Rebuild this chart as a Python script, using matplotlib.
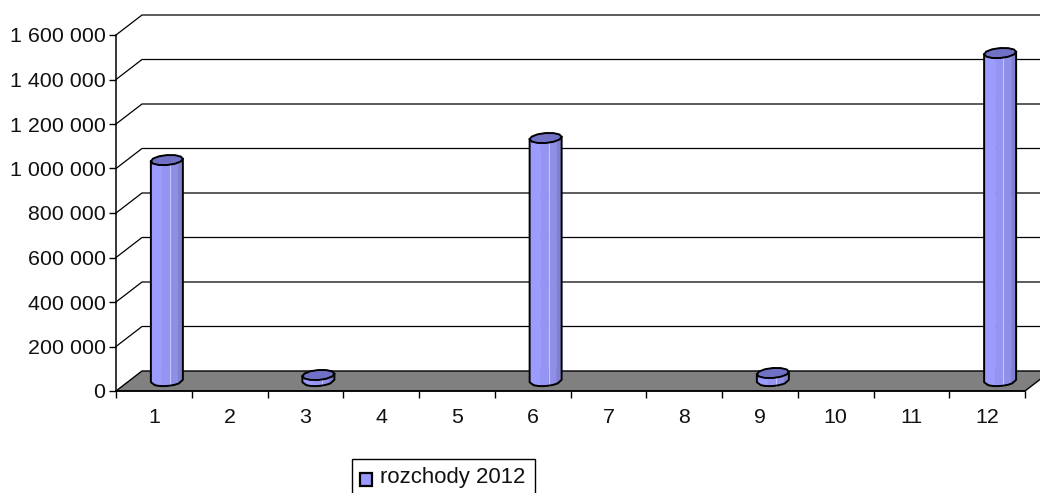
#!/usr/bin/env python3
import matplotlib
matplotlib.use("Agg")
import matplotlib.pyplot as plt
import numpy as np
from matplotlib.patches import Polygon, Rectangle

months = list(range(1, 13))
values = [993000, 0, 27000, 0, 0, 1092000, 0, 0, 36000, 0, 0, 1474000]
y_ticks = [0, 200000, 400000, 600000, 800000, 1000000, 1200000, 1400000, 1600000]
y_labels = ["0", "200 000", "400 000", "600 000", "800 000", "1 000 000", "1 200 000", "1 400 000", "1 600 000"]
series_name = "rozchody 2012"

W, H = 1040, 493
LEFT, RIGHT, TOP, BOTTOM = 116, 1025, 35, 391
DEPTH_X, DEPTH_Y = 26, 20
FONT = 15.4

plt.rcParams["font.family"] = ["Liberation Sans", "DejaVu Sans"]

fig = plt.figure(figsize=(W / 100, H / 100), dpi=100)
ax = fig.add_axes([LEFT / W, 1 - BOTTOM / H, (RIGHT - LEFT) / W, (BOTTOM - TOP) / H])
ax.set_xlim(0.5, 12.5)
ax.set_ylim(0, 1600000)

# pixel -> data unit factors
ux = 12 / (RIGHT - LEFT)
uy = 1600000 / (BOTTOM - TOP)
dx, dy = DEPTH_X * ux, DEPTH_Y * uy
x0, x1 = ax.get_xlim()

ax.patch.set_visible(False)
for s in ["top", "right"]:
    ax.spines[s].set_visible(False)
for s in ["left", "bottom"]:
    ax.spines[s].set_linewidth(1.1)
    ax.spines[s].set_color("black")
    ax.spines[s].set_zorder(6)

ax.set_xticks(np.arange(0.5, 13.5, 1))
ax.set_xticklabels([])
ax.set_xticks(months, minor=True)
ax.set_xticklabels([str(m) for m in months], minor=True, fontsize=FONT, color="#111111")
ax.tick_params(axis="x", which="major", length=5, width=1, direction="out")
ax.tick_params(axis="x", which="minor", length=0, pad=12.5)
ax.set_yticks(y_ticks)
ax.set_yticklabels(y_labels, fontsize=FONT, color="#111111")
ax.tick_params(axis="y", length=5, width=1, direction="out", pad=2.5)

# gridlines on the back wall, with the slanted bit on the side wall
for t in y_ticks[1:]:
    ax.plot([x0, x0 + dx, x1 + 2 * dx], [t, t + dy, t + dy], color="black", lw=0.9, clip_on=False, zorder=1)

# floor
floor = [(x0, 0), (x0 + dx, dy), (x1 + dx, dy), (x1, 0)]
ax.add_patch(Polygon(floor, closed=True, fc="#808080", ec="black", lw=1.0, clip_on=False, zorder=2))

# cylinders
halfw = 16 * ux
halfh = 5 * uy
tilt = 1.2 * uy
theta = np.linspace(0, 2 * np.pi, 13)[:-1]
ring_x = np.cos(theta)
ring_y = np.sin(theta) * halfh + ring_x * tilt
# facets from left to right, lighter on the left side
facets = [(-1.0, -0.3, "#9c9cff"), (-0.3, 0.2, "#9494f2"), (0.2, 0.7, "#8f8fe8"), (0.7, 1.0, "#8080d0")]


def lower_edge(f, base):
    return base - halfh * np.sqrt(np.clip(1 - f ** 2, 0, 1)) + f * tilt


for m, v in zip(months, values):
    if v <= 0:
        continue
    cx = m + dx / 2
    base = dy / 2
    top = base + v
    for a, b, c in facets:
        xa, xb = cx + a * halfw, cx + b * halfw
        pts = [(xa, lower_edge(a, base)), (xb, lower_edge(b, base)), (xb, top + b * tilt), (xa, top + a * tilt)]
        ax.add_patch(Polygon(pts, closed=True, fc=c, ec=c, lw=0.3, clip_on=False, zorder=3))
    ax.plot([cx + 0.2 * halfw] * 2, [lower_edge(0.2, base), top], color="#c4c4ff", lw=0.8, clip_on=False, zorder=3.5)
    # outline of the body
    xs = np.linspace(-1, 1, 9)
    ax.plot(cx + np.r_[-1, xs, 1] * halfw, np.r_[top - tilt, lower_edge(xs, base), top + tilt],
            color="black", lw=1.4, clip_on=False, zorder=4)
    # lid
    lid = np.c_[cx + ring_x * halfw, top + ring_y]
    ax.add_patch(Polygon(lid, closed=True, fc="#7070c4", ec="black", lw=1.4, clip_on=False, zorder=5))

# legend box, drawn by hand since its key is a small bordered square
leg_ax = fig.add_axes([0, 0, 1, 1])
leg_ax.set_xlim(0, W)
leg_ax.set_ylim(H, 0)
leg_ax.axis("off")
leg_ax.add_patch(Rectangle((352, 459), 183, 50, fc="white", ec="black", lw=1.0))
leg_ax.add_patch(Rectangle((359.5, 472.5), 12, 13, fc="#9999ff", ec="black", lw=1.6))
leg_ax.text(380, 478, series_name, fontsize=15.9, va="center", ha="left", color="#111111")

fig.savefig("out.png", dpi=100)
